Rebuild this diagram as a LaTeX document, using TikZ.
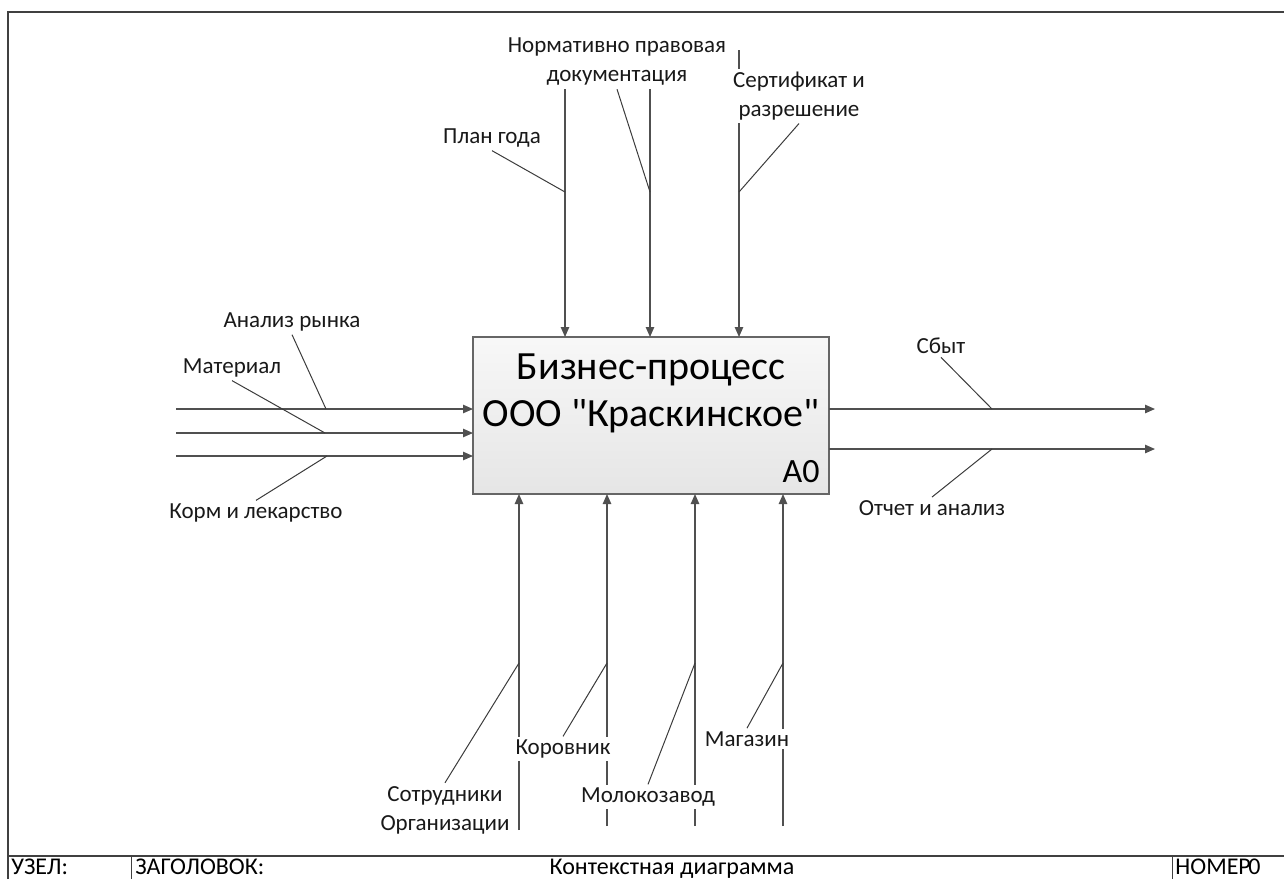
\documentclass[tikz,border=0pt]{standalone}
\usepackage{fontspec}
\setmainfont{Carlito}[Ligatures=TeXOff]
\usetikzlibrary{arrows.meta,positioning}
\definecolor{lineclr}{HTML}{505050}
\definecolor{leadclr}{HTML}{3C3C3C}
\definecolor{frameclr}{HTML}{404040}
\begin{document}
\begin{tikzpicture}[x=0.5pt, y=-0.5pt,
    arrowline/.style = {draw=lineclr, line width=0.7pt,
        -{Triangle[length=5pt, width=4.2pt]}},
    leader/.style    = {draw=leadclr, line width=0.5pt},
    lbl/.style       = {fill=white, inner sep=1.5pt, align=center,
        text=black!90, font=\fontsize{11.5}{14.5}\selectfont},
    actbox/.style    = {draw=black!60, line width=0.6pt, outer sep=0pt,
        top color=black!3, bottom color=black!10,
        minimum width=178pt, minimum height=78.5pt},
    foot/.style      = {anchor=base west, inner sep=0pt,
        font=\fontsize{12}{14}\selectfont}]
  \useasboundingbox (0,0) rectangle (1284,879);
  % frame
  \draw[frameclr, line width=1pt] (8,879) -- (8,12) -- (1284,12);
  \draw[frameclr, line width=0.8pt] (8,856) -- (1284,856);
  \draw[frameclr, line width=0.5pt] (131,856) -- (131,879)
                                    (1172,856) -- (1172,879);
  % activity
  \node[actbox] (proc) at (651,415.5) {};
  \node[align=center, font=\fontsize{20}{23.5}\selectfont]
    (title) at ([yshift=11pt]proc.center) {Бизнес-процесс\\ООО "Краскинское"};
  \node[anchor=base east, inner sep=0pt, font=\fontsize{17}{19}\selectfont]
    (num) at ([xshift=-4.5pt, yshift=6pt]proc.south east) {A0};
  % controls
  \coordinate (c1) at (565,88);
  \coordinate (c2) at (650,88);
  \coordinate (c3) at (739,50);
  \foreach \c in {c1,c2,c3}
    \draw[arrowline] (\c) -- (\c |- proc.north);
  % inputs
  \coordinate (i1) at (176,409);
  \coordinate (i2) at (176,433);
  \coordinate (i3) at (176,456);
  \foreach \i in {i1,i2,i3}
    \draw[arrowline] (\i) -- (\i -| proc.west);
  % outputs
  \coordinate (o1) at (1155,409);
  \coordinate (o2) at (1155,449);
  \foreach \o in {o1,o2}
    \draw[arrowline] (\o -| proc.east) -- (\o);
  % mechanisms
  \coordinate (m1) at (519,830);
  \coordinate (m2) at (607,826);
  \coordinate (m3) at (695,826);
  \coordinate (m4) at (783,826);
  \foreach \m in {m1,m2,m3,m4}
    \draw[arrowline] (\m) -- (\m |- proc.south);
  % labels
  \node[lbl] (plan)   at (492,138) {План года};
  \node[lbl] (norm)   at (617,62)  {Нормативно правовая\\документация};
  \node[lbl] (cert)   at (799,96)  {Сертификат и\\разрешение};
  \node[lbl] (market) at (292,322) {Анализ рынка};
  \node[lbl] (mat)    at (232,368) {Материал};
  \node[lbl] (feed)   at (256,513) {Корм и лекарство};
  \node[lbl] (sale)   at (941,346) {Сбыт};
  \node[lbl] (report) at (932,508) {Отчет и анализ};
  \node[lbl] (staff)  at (445,810) {Сотрудники\\Организации};
  \node[lbl] (barn)   at (563,749) {Коровник};
  \node[lbl] (dairy)  at (648,797) {Молокозавод};
  \node[lbl] (shop)   at (747,739) {Магазин};
  % leaders
  \draw[leader] (plan.south)   -- (565,192);
  \draw[leader] (norm.south)   -- (650,192);
  \draw[leader] (cert.south)   -- (739,192);
  \draw[leader] (market.south) -- (326,409);
  \draw[leader] (mat.south)    -- (325,433);
  \draw[leader] (feed.north)   -- (327,456);
  \draw[leader] (sale.south)   -- (992,409);
  \draw[leader] (report.north) -- (992,449);
  \draw[leader] (staff.north)  -- (519,663);
  \draw[leader] (barn.north)   -- (607,663);
  \draw[leader] (dairy.north)  -- (695,663);
  \draw[leader] (shop.north)   -- (783,663);
  % footer
  \node[foot] (node)  at (11,874)   {УЗЕЛ:};
  \node[foot] (head)  at (135,874)  {ЗАГОЛОВОК:};
  \node[foot, anchor=base] (name) at (672,874) {Контекстная диаграмма};
  \node[foot] (page)  at (1175,874) {НОМЕР};
  \node[foot] (pnum)  at (1248,874) {0};
\end{tikzpicture}
\end{document}
